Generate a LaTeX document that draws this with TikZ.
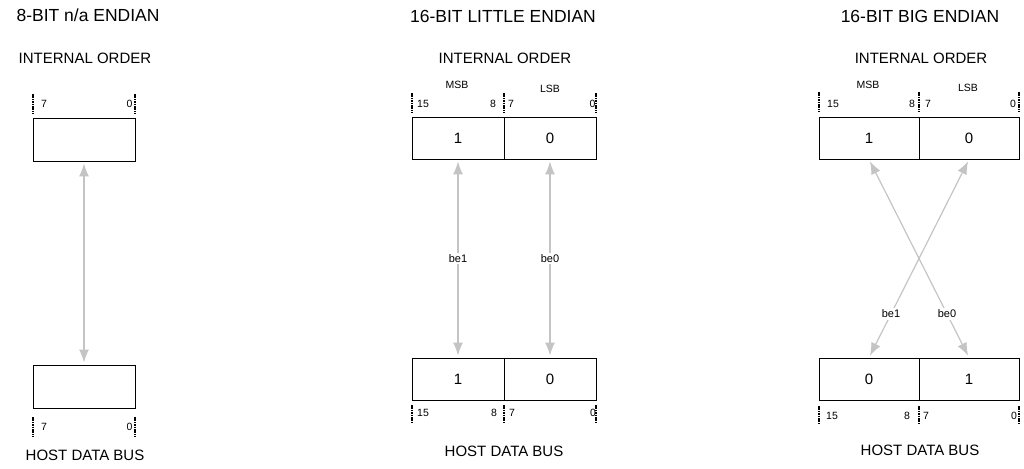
\documentclass[tikz,border=0pt]{standalone}
\usepackage{fontspec}
\setmainfont{Liberation Sans}
\usetikzlibrary{arrows.meta}
\definecolor{arrowgray}{RGB}{196,196,196}
\begin{document}
\begin{tikzpicture}[x=1pt,y=-1pt,
 ttl/.style={anchor=base,inner sep=0,font=\fontsize{17.5}{20}\selectfont},
 sub/.style={anchor=base,inner sep=0,font=\fontsize{15}{18}\selectfont},
 bit/.style={anchor=base,inner sep=0,font=\fontsize{10.5}{12}\selectfont},
 cell/.style={draw,line width=0.9pt,inner sep=0,minimum height=42pt,font=\fontsize{15}{18}\selectfont},
 bitmark/.style={line width=2pt,dash pattern=on 1.6pt off 0.8pt},
 conn/.style={draw=arrowgray,line width=1.2pt,{Latex[length=13pt,width=10pt]}-{Latex[length=13pt,width=10pt]},shorten <=2pt,shorten >=2pt},
 be/.style={fill=white,inner sep=1.5pt,font=\fontsize{11}{12}\selectfont}
]
\useasboundingbox (0,0) rectangle (1024,468);

% ---------- Panel 1 ----------
\node[ttl] (t1) at (88,22) {8-BIT n/a ENDIAN};
\node[sub] (io1) at (85,63.5) {INTERNAL ORDER};
\node[cell,minimum width=102pt,minimum height=43pt] (p1t) at (84,139.5) {};
\node[cell,minimum width=102pt,minimum height=43pt] (p1b) at (84,386.5) {};
\draw[bitmark] (33,94) -- (33,114);
\draw[bitmark] (135,94) -- (135,114);
\node[bit] (p1t7) at (44,108) {7};
\node[bit] (p1t0) at (129.5,108) {0};
\draw[bitmark] (33,417) -- (33,437);
\draw[bitmark] (135,417) -- (135,437);
\node[bit] (p1b7) at (44,430.5) {7};
\node[bit] (p1b0) at (129.5,430.5) {0};
\node[sub] (hb1) at (85,460.5) {HOST DATA BUS};
\draw[conn] (p1t.south) -- (p1b.north);

% ---------- Panel 2 ----------
\node[ttl] (t2) at (503,22.5) {16-BIT LITTLE ENDIAN};
\node[sub] (io2) at (505,64) {INTERNAL ORDER};
\node[bit] (msb2) at (457,89) {MSB};
\node[bit] (lsb2) at (550,92.5) {LSB};
\draw[bitmark] (412,93) -- (412,113);
\draw[bitmark] (504,93) -- (504,113);
\draw[bitmark] (596,93) -- (596,113);
\node[bit] (p2t15) at (423,107) {15};
\node[bit] (p2t8) at (493,107) {8};
\node[bit] (p2t7) at (511,107) {7};
\node[bit] (p2t0) at (592.5,107) {0};
\node[cell,minimum width=92pt] (p2tl) at (458,138) {1};
\node[cell,minimum width=92pt] (p2tr) at (550,138) {0};
\node[cell,minimum width=92pt] (p2bl) at (458,379) {1};
\node[cell,minimum width=92pt] (p2br) at (550,379) {0};
\draw[bitmark] (412,405) -- (412,424);
\draw[bitmark] (504,405) -- (504,424);
\draw[bitmark] (596,405) -- (596,424);
\node[bit] (p2b15) at (423,416.5) {15};
\node[bit] (p2b8) at (494,416.5) {8};
\node[bit] (p2b7) at (512,416.5) {7};
\node[bit] (p2b0) at (593,416.5) {0};
\node[sub] (hb2) at (504,456) {HOST DATA BUS};
\draw[conn] (p2tl.south) -- (p2bl.north) node[be,pos=0.5] (be1a) {be1};
\draw[conn] (p2tr.south) -- (p2br.north) node[be,pos=0.5] (be0a) {be0};

% ---------- Panel 3 ----------
\node[ttl] (t3) at (920,23) {16-BIT BIG ENDIAN};
\node[sub] (io3) at (921,64) {INTERNAL ORDER};
\node[bit] (msb3) at (868,88.5) {MSB};
\node[bit] (lsb3) at (968,92) {LSB};
\draw[bitmark] (819,92) -- (819,112);
\draw[bitmark] (919,92) -- (919,112);
\draw[bitmark] (1019,92) -- (1019,112);
\node[bit] (p3t15) at (833,107) {15};
\node[bit] (p3t8) at (912,107) {8};
\node[bit] (p3t7) at (928,107) {7};
\node[bit] (p3t0) at (1013,107) {0};
\node[cell,minimum width=100pt] (p3tl) at (869,138) {1};
\node[cell,minimum width=100pt] (p3tr) at (969,138) {0};
\node[cell,minimum width=100pt] (p3bl) at (869,379) {0};
\node[cell,minimum width=100pt] (p3br) at (969,379) {1};
\draw[bitmark] (819,406) -- (819,425);
\draw[bitmark] (919,406) -- (919,425);
\draw[bitmark] (1019,406) -- (1019,425);
\node[bit] (p3b15) at (832,419) {15};
\node[bit] (p3b8) at (907,419) {8};
\node[bit] (p3b7) at (926,419) {7};
\node[bit] (p3b0) at (1014,419) {0};
\node[sub] (hb3) at (920,455.5) {HOST DATA BUS};
\draw[conn] (p3tl.south) -- (p3br.north) node[be,pos=0.78] (be0b) {be0};
\draw[conn] (p3tr.south) -- (p3bl.north) node[be,pos=0.78] (be1b) {be1};
\end{tikzpicture}
\end{document}
